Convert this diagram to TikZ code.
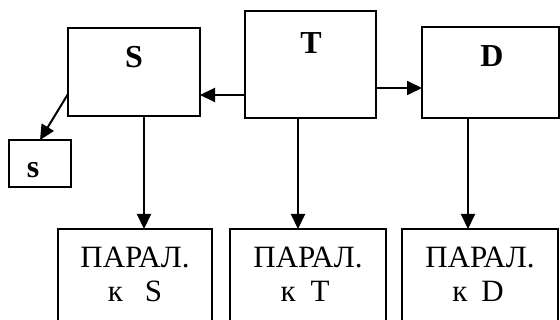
\documentclass[tikz,border=0pt]{standalone}
\usepackage{fontspec}
\setmainfont{Liberation Serif}
\usetikzlibrary{arrows.meta,calc}
\begin{document}
\begin{tikzpicture}[x=1pt,y=-1pt,
  box/.style={draw=black,line width=2pt,inner sep=0pt,outer sep=0pt},
  lab/.style={inner sep=0pt,font=\fontsize{32}{34}\selectfont\bfseries},
  ptxt/.style={inner sep=0pt,anchor=base,font=\fontsize{31}{33}\selectfont},
  arr/.style={line width=2pt,-{Triangle[length=15pt,width=14pt]}}]
\useasboundingbox (0,0) rectangle (560,320);
\clip (0,0) rectangle (560,320);
% upper boxes
\node[box,minimum width=132pt,minimum height=88pt] (S) at (134,72) {};
\node[box,minimum width=131pt,minimum height=107pt] (T) at (310.5,64.5) {};
\node[box,minimum width=137pt,minimum height=91pt] (D) at (490.5,72.5) {};
\node[box,minimum width=62pt,minimum height=47pt] (s) at (40,163.5) {};
\node[lab] (Sl) at (134,57) {S};
\node[lab] (Tl) at (311,43) {T};
\node[lab] (Dl) at (492,56) {D};
\node[lab,anchor=base] (sl) at (33,178) {s};
% lower boxes
\node[box,minimum width=154pt,minimum height=101pt] (B1) at (135,279.5) {};
\node[box,minimum width=156pt,minimum height=101pt] (B2) at (308,279.5) {};
\node[box,minimum width=156pt,minimum height=101pt] (B3) at (480,279.5) {};
\node[ptxt] (B1a) at (135,268) {ПАРАЛ.};
\node[ptxt] (B1b) at (135,302) {к\hspace{22pt}S};
\node[ptxt] (B2a) at (308,268) {ПАРАЛ.};
\node[ptxt] (B2b) at (305,302) {к\hspace{15pt}T};
\node[ptxt] (B3a) at (480,268) {ПАРАЛ.};
\node[ptxt] (B3b) at (478,302) {к\hspace{14pt}D};
% connectors
\draw[arr] ([yshift=-30.5pt]T.west) -- ([yshift=-23pt]S.east);
\draw[arr] ([yshift=-23.5pt]T.east) -- ([yshift=-15.5pt]D.west);
\draw[arr] ([yshift=-22pt]S.west) -- (s.north);
\draw[arr] ($(S.south)+(10,0)$) -- ($(B1.north)+(9,0)$);
\draw[arr] ($(T.south)+(-12.5,0)$) -- ($(B2.north)+(-10,0)$);
\draw[arr] ($(D.south)+(-22.5,0)$) -- ($(B3.north)+(-12,0)$);
\end{tikzpicture}
\end{document}
